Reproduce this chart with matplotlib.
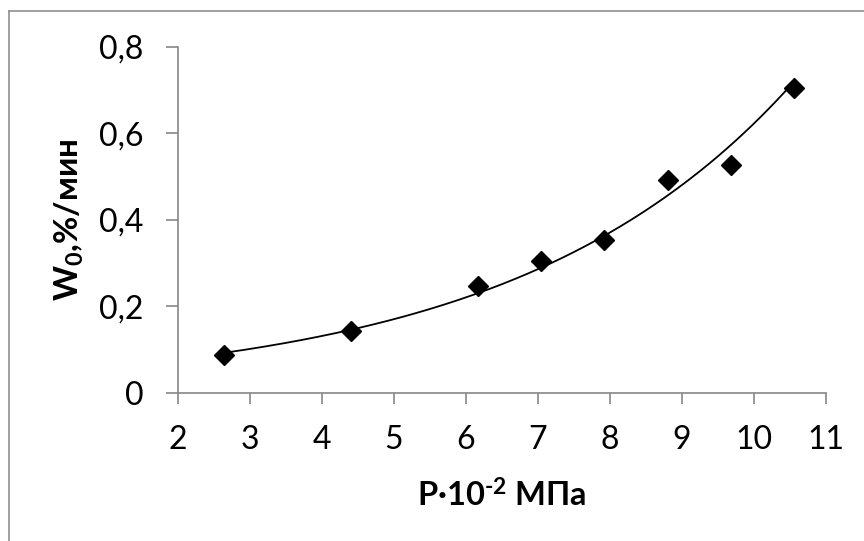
import numpy as np
import matplotlib
matplotlib.use("Agg")
import matplotlib.pyplot as plt
from matplotlib.ticker import FuncFormatter
from matplotlib.lines import Line2D

# ---- data ----
pressure = [2.64, 4.40, 6.16, 7.04, 7.92, 8.80, 9.68, 10.56]
rate = [0.088, 0.143, 0.247, 0.305, 0.353, 0.492, 0.526, 0.706]
x_ticks = [2, 3, 4, 5, 6, 7, 8, 9, 10, 11]
y_ticks = [0, 0.2, 0.4, 0.6, 0.8]
x_label = "P·10$^{\\mathbf{\\text{-}2}}$ МПа"
y_label = "W$_{\\mathbf{0}}$,%/мин"

plt.rcParams['font.family'] = ['Lato', 'DejaVu Sans']
plt.rcParams['mathtext.fontset'] = 'custom'
plt.rcParams['mathtext.rm'] = 'Lato:bold'
plt.rcParams['mathtext.bf'] = 'Lato:bold'
plt.rcParams['mathtext.it'] = 'Lato:italic'

W, H, DPI = 864, 541, 100
fig = plt.figure(figsize=(W / DPI, H / DPI), dpi=DPI)
fig.patch.set_facecolor('white')

# outer chart border (top and left visible, rest cut off)
border_col = '#868686'
fig.add_artist(Line2D([9 / W, 1.0], [1 - 11 / H, 1 - 11 / H], color=border_col, lw=1.1))
fig.add_artist(Line2D([9 / W, 9 / W], [1 - 11 / H, 0.0], color=border_col, lw=1.1))

left, right, top, bottom = 178, 826, 47, 392.7
ax = fig.add_axes([left / W, 1 - bottom / H, (right - left) / W, (bottom - top) / H])

# exponential trendline (least squares on ln y, like a spreadsheet trendline)
b, ln_a = np.polyfit(pressure, np.log(rate), 1)
xs = np.linspace(min(pressure), max(pressure), 200)
ax.plot(xs, np.exp(ln_a) * np.exp(b * xs), color='black', lw=1.3, zorder=2)

ax.plot(pressure, rate, linestyle='none', marker='D', markersize=10.5,
        color='black', zorder=3)

ax.set_xlim(2, 11)
ax.set_ylim(0, 0.8)
ax.set_xticks(x_ticks)
ax.set_yticks(y_ticks)
ax.yaxis.set_major_formatter(FuncFormatter(lambda v, p: ('%g' % v).replace('.', ',')))

for s in ['top', 'right']:
    ax.spines[s].set_visible(False)
for s in ['left', 'bottom']:
    ax.spines[s].set_color(border_col)
    ax.spines[s].set_linewidth(1.2)

ax.tick_params(axis='both', colors=border_col, width=1.2, labelcolor='black',
               labelsize=23)
ax.tick_params(axis='y', direction='out', length=8.6, pad=16)
ax.tick_params(axis='x', direction='out', length=8, pad=15)

ax.set_xlabel(x_label, fontsize=23.5, fontweight='bold')
ax.xaxis.set_label_coords(0.5, (bottom - 507) / (bottom - top))
ax.xaxis.label.set_verticalalignment('baseline')

ax.set_ylabel(y_label, fontsize=24, fontweight='bold')
ax.yaxis.set_label_coords((79 - left) / (right - left), 0.5)
ax.yaxis.label.set_rotation_mode('anchor')
ax.yaxis.label.set_verticalalignment('baseline')
ax.yaxis.label.set_horizontalalignment('center')

fig.savefig('out.png', dpi=DPI)
